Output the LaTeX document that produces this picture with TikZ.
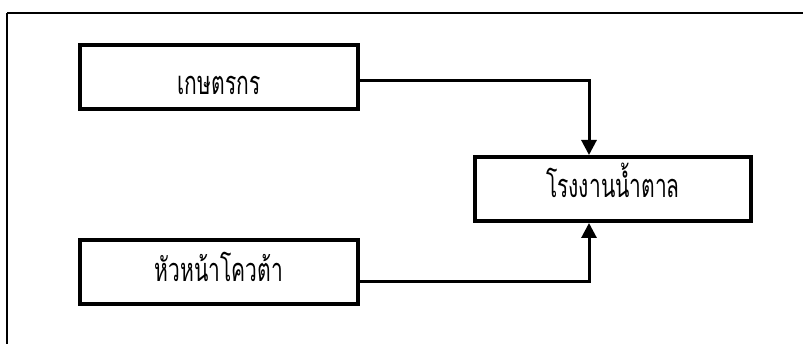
\documentclass[tikz,border=0pt]{standalone}
\usepackage{fontspec}
\newfontfamily\thaifont[Script=Thai]{Loma}
\usetikzlibrary{arrows.meta}
\newcommand{\boxtext}[2]{\raisebox{-#1}[0pt][0pt]{\scalebox{1}[1.55]{#2}}}
\begin{document}
\begin{tikzpicture}[x=1pt,y=-1pt,
  box/.style={draw,line width=4pt,minimum width=278pt,minimum height=64pt,inner sep=0pt,font=\thaifont\fontsize{21}{25}\selectfont},
  conn/.style={line width=3pt,-{Triangle[length=15pt,width=15pt]}}]
\useasboundingbox (0,0) rectangle (803,344);
\draw[line width=2pt] (7,13) -- (810,13);
\draw[line width=2pt] (7,13) -- (7,350);
\node[box] (farmer) at (219,77) {\boxtext{18pt}{เกษตรกร}};
\node[box] (head) at (219,272.5) {\boxtext{9.5pt}{หัวหน้าโควต้า}};
\node[box,minimum width=276pt] (mill) at (613,189) {\boxtext{9pt}{โรงงานน้ำตาล}};
\coordinate (c1) at (589,81);
\coordinate (c2) at (589,282);
\draw[conn] (farmer.east |- c1) -- (c1) -- (mill.north -| c1);
\draw[conn] (head.east |- c2) -- (c2) -- (mill.south -| c2);
\end{tikzpicture}
\end{document}
